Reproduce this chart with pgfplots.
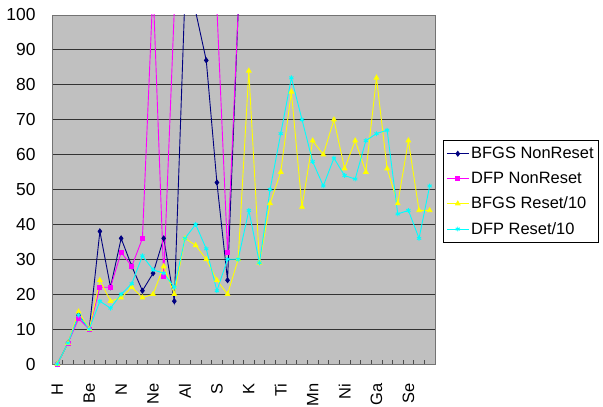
\documentclass[border=0pt]{standalone}
\usepackage{fontspec}
\setmainfont{Liberation Sans}
\usepackage{pgfplots}
\pgfplotsset{compat=1.18}
\definecolor{plotbg}{HTML}{C0C0C0}
\definecolor{cnavy}{HTML}{000080}
\definecolor{cmag}{HTML}{FF00FF}
\definecolor{cyel}{HTML}{FFFF00}
\definecolor{ccyan}{HTML}{00FFFF}
\begin{document}
\begin{tikzpicture}
\path[use as bounding box] (0,0) rectangle (603bp,407bp);
\begin{axis}[
  at={(52bp,43bp)}, anchor=south west,
  scale only axis, width=383bp, height=349bp,
  xmin=-0.5, xmax=35.5, ymin=0, ymax=100,
  axis background/.style={fill=plotbg},
  axis line style={draw=black!55, line width=0.8bp},
  ytick={0,10,...,100},
  ymajorgrids, grid style={black!80, line width=0.8bp},
  xtick={0,3,...,33},
  xticklabels={H,Be,N,Ne,Al,S,K,Ti,Mn,Ni,Ga,Se},
  minor xtick={-0.5,0.5,...,35.5},
  major tick length=0pt, minor tick length=4bp,
  tick align=inside, xtick pos=bottom, ytick pos=left,
  minor tick style={black!70, line width=0.6bp},
  /pgf/number format/assume math mode=true,
  tick label style={font=\fontsize{17.5}{20}\selectfont},
  yticklabel style={xshift=-13bp},
  xticklabel style={rotate=90, anchor=east, xshift=-16bp, font=\fontsize{16.5}{19}\selectfont},
  legend style={at={(1.021,0.642)}, anchor=north west, draw=black, fill=white,
    line width=0.6bp, font=\fontsize{16.5}{19}\selectfont, row sep=8bp,
    inner xsep=3bp, inner ysep=5bp},
  legend cell align=left,
  legend image code/.code={\draw[mark repeat=2,mark phase=2] plot coordinates {(0bp,0bp) (11bp,0bp) (22bp,0bp)};},
  every axis plot/.append style={line width=0.9bp},
]
\addplot[cnavy, mark=diamond*, mark size=2.4bp, mark options={fill=cnavy}] coordinates {
(0,0) (1,6) (2,14) (3,10) (4,38) (5,22) (6,36) (7,28) (8,21) (9,26) (10,36) (11,18)
(12,106) (13,101) (14,87) (15,52) (16,24) (17,101)};
\addlegendentry{BFGS NonReset}
\addplot[cmag, mark=square*, mark size=2bp, mark options={fill=cmag}] coordinates {
(0,0) (1,6) (2,13) (3,10) (4,22) (5,22) (6,32) (7,28) (8,36) (9,108) (10,25) (11,102)
(12,150) (13,150) (14,150) (15,102) (16,32) (17,101)};
\addlegendentry{DFP NonReset}
\addplot[cyel, mark=triangle*, mark size=2.6bp, mark options={fill=cyel}] coordinates {
(0,0) (1,6) (2,15) (3,10) (4,24) (5,18) (6,19) (7,22) (8,19) (9,20) (10,28) (11,20)
(12,36) (13,34) (14,30) (15,24) (16,20) (17,30) (18,84) (19,29) (20,46) (21,55) (22,78) (23,45)
(24,64) (25,60) (26,70) (27,56) (28,64) (29,55) (30,82) (31,56) (32,46) (33,64) (34,44) (35,44)};
\addlegendentry{BFGS Reset/10}
\addplot[ccyan, mark=asterisk, mark size=2.4bp] coordinates {
(0,0) (1,6) (2,14) (3,10) (4,18) (5,16) (6,20) (7,23) (8,31) (9,27) (10,26) (11,22)
(12,36) (13,40) (14,33) (15,21) (16,30) (17,30) (18,44) (19,29) (20,50) (21,66) (22,82) (23,70)
(24,58) (25,51) (26,59) (27,54) (28,53) (29,64) (30,66) (31,67) (32,43) (33,44) (34,36) (35,51)};
\addlegendentry{DFP Reset/10}
\end{axis}
\end{tikzpicture}
\end{document}
